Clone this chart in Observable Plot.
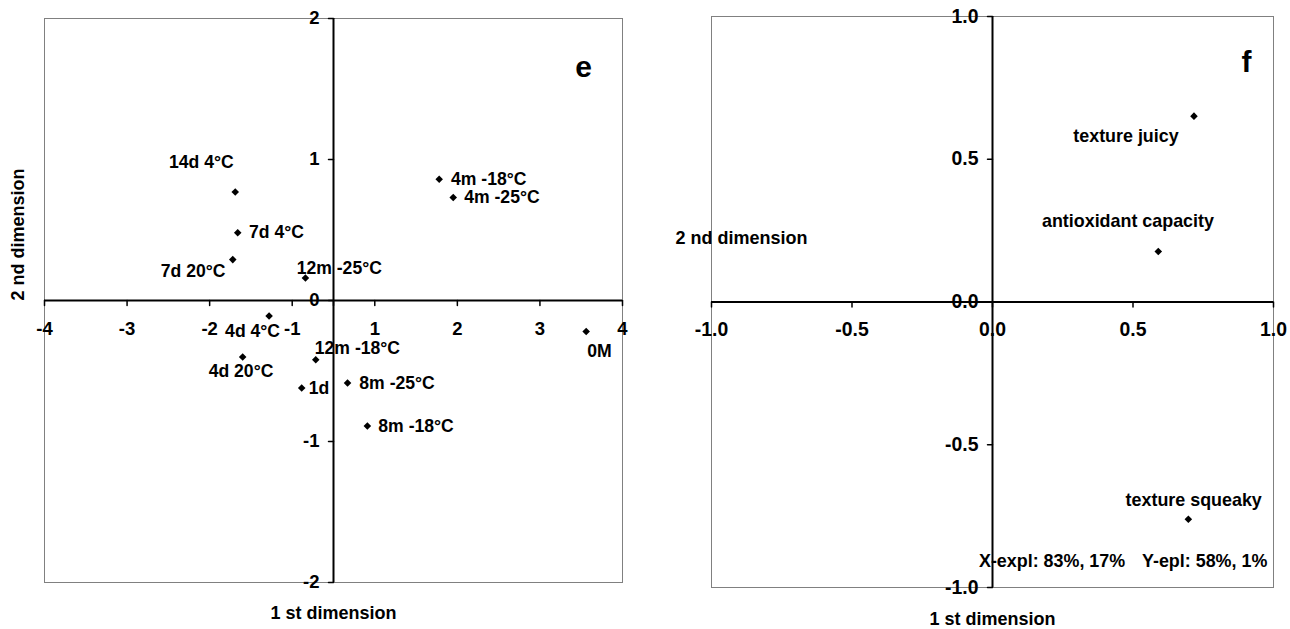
<!DOCTYPE html>
<html>
<head>
<meta charset="utf-8">
<script src="https://cdn.jsdelivr.net/npm/d3@7"></script>
<script src="https://cdn.jsdelivr.net/npm/@observablehq/plot@0.6"></script>
<style>
  html, body { margin: 0; padding: 0; background: #fff; }
  #wrap { position: relative; width: 1290px; height: 629px; overflow: hidden; background: #fff; }
  #left, #right { position: absolute; top: 0; }
  #left { left: 0; }
  #right { left: 640px; }
  svg { overflow: visible; }
</style>
</head>
<body>
<div id="wrap"><div id="left"></div><div id="right"></div></div>
<script>
// ---- Panel e: samples (1st / 2nd dimension scores) ----
const samples = ["14d 4°C","7d 4°C","7d 20°C","12m -25°C","4m -18°C","4m -25°C","4d 4°C","4d 20°C","12m -18°C","1d","8m -25°C","8m -18°C","0M"];
const sampleDim1 = [-1.69,-1.66,-1.72,-0.68,1.78,1.95,-1.28,-1.60,-0.43,-0.77,0.34,0.82,3.56];
const sampleDim2 = [0.77,0.48,0.29,0.16,0.86,0.73,-0.11,-0.40,-0.42,-0.62,-0.585,-0.89,-0.22];
const sampleLabelDim1 = [-2.10,-1.19,-2.20,0.14,2.38,2.54,-1.48,-1.62,0.58,-0.35,1.27,1.50,3.72];
const sampleLabelDim2 = [0.98,0.48,0.21,0.23,0.86,0.73,-0.22,-0.50,-0.34,-0.62,-0.59,-0.895,-0.36];
const eXTicks = [-4,-3,-2,-1,0,1,2,3,4];
const eXTickLabels = ["-4","-3","-2","-1","","1","2","3","4"];
const eYTicks = [-2,-1,0,1,2];
const eYTickLabels = ["-2","-1","0","1","2"];

// ---- Panel f: attributes (loadings) ----
const attributes = ["texture juicy","antioxidant capacity","texture squeaky"];
const attrDim1 = [0.717,0.59,0.697];
const attrDim2 = [0.651,0.177,-0.761];
const attrLabelDim1 = [0.475,0.482,0.716];
const attrLabelDim2 = [0.581,0.282,-0.695];
const fNotes = ["X-expl: 83%, 17%","Y-epl: 58%, 1%"];
const fNoteDim1 = [0.212,0.755];
const fNoteDim2 = [-0.909,-0.909];
const fTicks = [-1,-0.5,0,0.5,1];
const fTickLabels = ["-1.0","-0.5","0.0","0.5","1.0"];

const xTitle = "1 st dimension";
const yTitle = "2 nd dimension";

const FONT = '"Liberation Sans",Arial,Helvetica,sans-serif';
const tickShape = { draw(ctx, l) { ctx.moveTo(0, 0); ctx.lineTo(0, -l); } };

const eSamples = samples.map((s, i) => ({s, x: sampleDim1[i], y: sampleDim2[i], lx: sampleLabelDim1[i], ly: sampleLabelDim2[i]}));
const eX = eXTicks.map((v, i) => ({v, t: eXTickLabels[i]}));
const eY = eYTicks.map((v, i) => ({v, t: eYTickLabels[i]}));

// Panel e x axis: labelled positions are evenly spaced with 0 omitted (piecewise scale)
const eLeft = 44, eRight = 622;
const eStep = (eRight - eLeft) / 7;
const left = Plot.plot({
  width: 640, height: 629,
  marginLeft: eLeft, marginRight: 640 - eRight, marginTop: 18, marginBottom: 47,
  x: {type: "linear", domain: [-4, -1, 1, 4], range: [eLeft, eLeft + 3 * eStep, eLeft + 4 * eStep, eRight], axis: null},
  y: {domain: [-2, 2], axis: null},
  style: {fontFamily: FONT, fontWeight: "bold", background: "white", overflow: "visible"},
  marks: [
    Plot.frame({stroke: "#808080", strokeWidth: 1}),
    Plot.ruleY([0], {stroke: "black", strokeWidth: 2}),
    Plot.ruleX([0], {stroke: "black", strokeWidth: 2}),
    Plot.vector(eX, {x: "v", y: 0, length: 5, rotate: 180, anchor: "start", shape: tickShape, stroke: "black", strokeWidth: 1.5}),
    Plot.vector(eY, {x: 0, y: "v", length: 5, rotate: -90, anchor: "start", shape: tickShape, stroke: "black", strokeWidth: 1.5}),
    Plot.text(eX, {x: "v", y: 0, text: "t", dy: 29, fontSize: 18.5, fill: "black"}),
    Plot.text(eY, {x: 0, y: "v", text: "t", dx: -14, textAnchor: "end", fontSize: 18.5, fill: "black"}),
    Plot.dot(eSamples, {x: "x", y: "y", symbol: "diamond2", r: 3.4, fill: "black", stroke: "none"}),
    Plot.text(eSamples, {x: "lx", y: "ly", text: "s", fontSize: 17.6, fill: "black"}),
    Plot.text(["e"], {frameAnchor: "top-right", dx: -39, dy: 49, lineAnchor: "middle", textAnchor: "middle", fontSize: 30, fill: "black"}),
    Plot.text([xTitle], {frameAnchor: "bottom", dy: 31, lineAnchor: "middle", fontSize: 18, fill: "black"}),
    Plot.text([yTitle], {frameAnchor: "left", dx: -26, rotate: -90, lineAnchor: "middle", fontSize: 18, fill: "black"})
  ]
});
document.getElementById("left").appendChild(left);

const fAttrs = attributes.map((s, i) => ({s, x: attrDim1[i], y: attrDim2[i], lx: attrLabelDim1[i], ly: attrLabelDim2[i]}));
const fT = fTicks.map((v, i) => ({v, t: fTickLabels[i]}));
const fN = fNotes.map((s, i) => ({s, x: fNoteDim1[i], y: fNoteDim2[i]}));

const right = Plot.plot({
  width: 650, height: 629,
  marginLeft: 71, marginRight: 17, marginTop: 16, marginBottom: 42,
  x: {domain: [-1, 1], axis: null},
  y: {domain: [-1, 1], axis: null},
  style: {fontFamily: FONT, fontWeight: "bold", background: "white", overflow: "visible"},
  marks: [
    Plot.frame({stroke: "#808080", strokeWidth: 1}),
    Plot.ruleY([0], {stroke: "black", strokeWidth: 2}),
    Plot.ruleX([0], {stroke: "black", strokeWidth: 2}),
    Plot.vector(fT, {x: "v", y: 0, length: 5, rotate: 180, anchor: "start", shape: tickShape, stroke: "black", strokeWidth: 1.5}),
    Plot.vector(fT, {x: 0, y: "v", length: 5, rotate: -90, anchor: "start", shape: tickShape, stroke: "black", strokeWidth: 1.5}),
    Plot.text(fT, {x: "v", y: 0, text: "t", dy: 28, fontSize: 19.4, fill: "black"}),
    Plot.text(fT, {x: 0, y: "v", text: "t", dx: -14, textAnchor: "end", fontSize: 19.4, fill: "black"}),
    Plot.dot(fAttrs, {x: "x", y: "y", symbol: "diamond2", r: 3.4, fill: "black", stroke: "none"}),
    Plot.text(fAttrs, {x: "lx", y: "ly", text: "s", fontSize: 17.9, fill: "black"}),
    Plot.text(fN, {x: "x", y: "y", text: "s", fontSize: 17.9, fill: "black"}),
    Plot.text(["f"], {frameAnchor: "top-right", dx: -27, dy: 46, lineAnchor: "middle", textAnchor: "middle", fontSize: 30, fill: "black"}),
    Plot.text([xTitle], {frameAnchor: "bottom", dy: 32, lineAnchor: "middle", fontSize: 18, fill: "black"}),
    Plot.text([yTitle], {frameAnchor: "left", dx: -36, dy: -64, textAnchor: "start", lineAnchor: "middle", fontSize: 18, fill: "black"})
  ]
});
document.getElementById("right").appendChild(right);
</script>
</body>
</html>
